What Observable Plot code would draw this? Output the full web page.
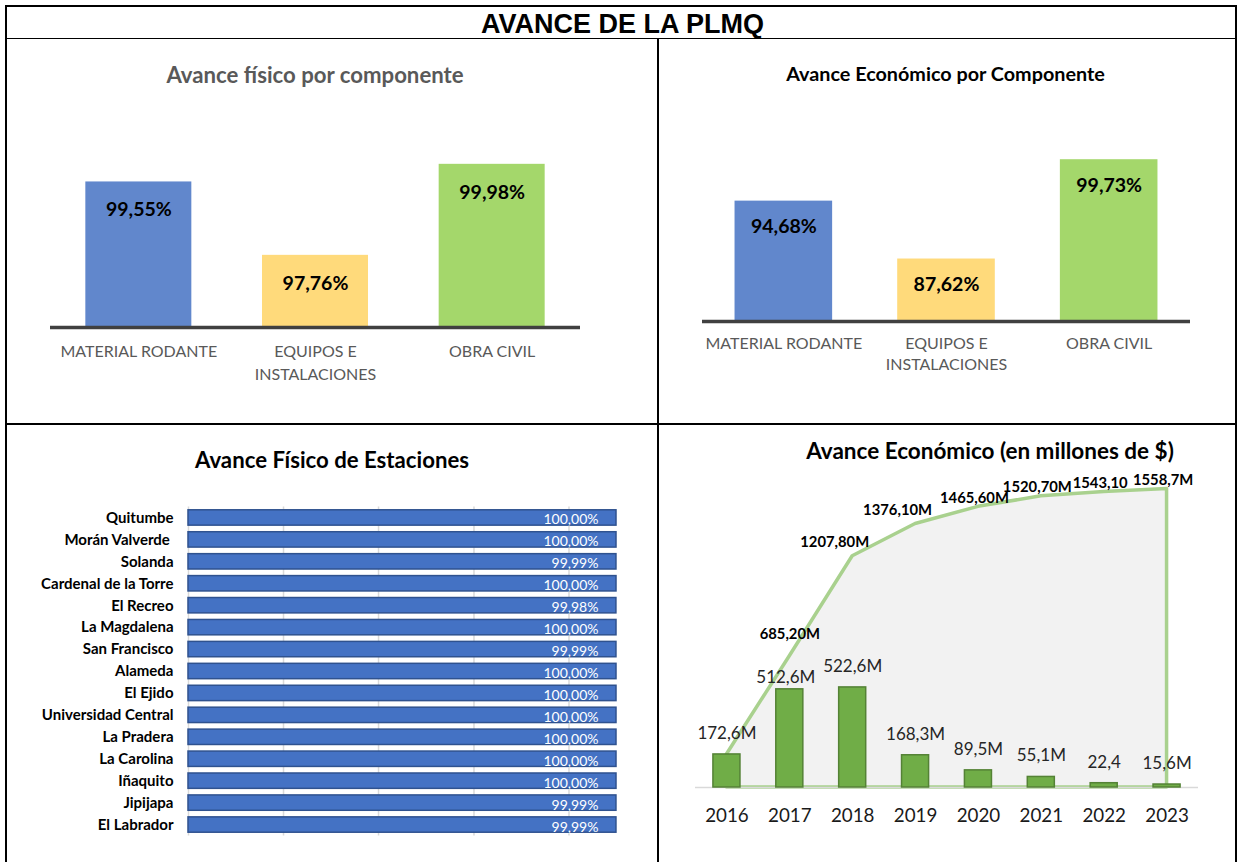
<!DOCTYPE html>
<html>
<head>
<meta charset="utf-8">
<script src="https://cdn.jsdelivr.net/npm/d3@7"></script>
<script src="https://cdn.jsdelivr.net/npm/@observablehq/plot@0.6"></script>
<style>
  body { margin: 0; background: #fff; }
  #page { position: relative; width: 1239px; height: 862px; overflow: hidden; background: #fff; font-family: Lato, sans-serif; }
  .line { position: absolute; background: #000; }
  .title { position: absolute; white-space: nowrap; transform: translate(-50%, -50%); font-weight: bold; line-height: 1; }
  .chart { position: absolute; }
  .chart svg { overflow: visible; }
</style>
</head>
<body>
<div id="page"></div>
<script>
// ---------------- DATA ----------------
const components = ["MATERIAL RODANTE", "EQUIPOS E\nINSTALACIONES", "OBRA CIVIL"];
const fisicoValues = [99.55, 97.76, 99.98];
const economicoValues = [94.68, 87.62, 99.73];

const stations = ["Quitumbe", "Morán Valverde\u00A0", "Solanda", "Cardenal de la Torre", "El Recreo",
  "La Magdalena", "San Francisco", "Alameda", "El Ejido", "Universidad Central", "La Pradera",
  "La Carolina", "Iñaquito", "Jipijapa", "El Labrador"];
const stationValues = [100, 100, 99.99, 100, 99.98, 100, 99.99, 100, 100, 100, 100, 100, 100, 99.99, 99.99];
const stationGridTicks = [0, 22.2, 44.4, 66.7, 88.9];

const years = [2016, 2017, 2018, 2019, 2020, 2021, 2022, 2023];
const annualValues = [172.6, 512.6, 522.6, 168.3, 89.5, 55.1, 22.4, 15.6];
const annualLabels = ["172,6M", "512,6M", "522,6M", "168,3M", "89,5M", "55,1M", "22,4", "15,6M"];
const cumulativeValues = [172.6, 685.2, 1207.8, 1376.1, 1465.6, 1520.7, 1543.1, 1558.7];
const cumulativeLabels = ["", "685,20M", "1207,80M", "1376,10M", "1465,60M", "1520,70M", "1543,10", "1558,7M"];

// ---------------- LAYOUT ----------------
const page = document.getElementById("page");
function addLine(l, t, w, h) {
  const d = document.createElement("div");
  d.className = "line";
  Object.assign(d.style, {left: l + "px", top: t + "px", width: w + "px", height: h + "px"});
  page.appendChild(d);
}
function addTitle(text, cx, cy, size, color, family) {
  const d = document.createElement("div");
  d.className = "title";
  d.textContent = text;
  Object.assign(d.style, {left: cx + "px", top: cy + "px", fontSize: size + "px", color, fontFamily: family || "Lato, sans-serif"});
  page.appendChild(d);
}
function addChart(svg, l, t) {
  const d = document.createElement("div");
  d.className = "chart";
  d.style.left = l + "px";
  d.style.top = t + "px";
  d.appendChild(svg);
  page.appendChild(d);
}

// frame lines
addLine(5, 5, 1232, 2);
addLine(5, 37.5, 1232, 1.5);
addLine(5, 5, 2, 857);
addLine(1234.5, 5, 2, 857);
addLine(5, 422.5, 1232, 2);
addLine(656.5, 38, 2, 824);

addTitle("AVANCE DE LA PLMQ", 622.5, 23.5, 27, "#000", "'Liberation Sans', Arial, sans-serif");
addTitle("Avance físico por componente", 315, 75, 22.2, "#595959");
addTitle("Avance Económico por Componente", 945.5, 74, 19.8, "#000");
addTitle("Avance Físico de Estaciones", 332, 460, 22.2, "#000");
addTitle("Avance Económico (en millones de $)", 990, 451, 22.5, "#000");

const fmtPct = v => v.toFixed(2).replace(".", ",") + "%";

// ---------------- PANELS 1 & 2 ----------------
function componentChart(values, o) {
  const data = components.map((c, i) => ({c, v: values[i]}));
  return Plot.plot({
    width: o.width, height: o.height,
    marginLeft: o.ml, marginRight: o.mr, marginTop: o.mt, marginBottom: o.mb,
    style: {fontFamily: "Lato, sans-serif", color: "#595959", background: "transparent"},
    x: {domain: components, paddingInner: 0.4, paddingOuter: 0.2, round: false},
    y: {domain: o.yDomain, axis: null},
    color: {domain: components, range: ["#6187CC", "#FFDA7B", "#A4D76B"]},
    marks: [
      Plot.barY(data, {x: "c", y1: o.yDomain[0], y2: "v", fill: "c", insetLeft: 0, insetRight: 0}),
      Plot.ruleY([o.yDomain[0]], {stroke: "#404040", strokeWidth: 3.5}),
      Plot.text(data, {x: "c", y: "v", text: d => fmtPct(d.v), dy: o.labelDy, fill: "#000", fontWeight: "bold", fontSize: 19.5}),
      Plot.axisX({tickSize: 0, tickPadding: o.tickPadding, fontSize: 16, lineHeight: o.lineHeight, label: null})
    ]
  });
}

addChart(componentChart(fisicoValues, {
  width: 652, height: 384, ml: 45, mr: 77, mt: 123, mb: 97, yDomain: [96, 100], labelDy: 28, tickPadding: 13, lineHeight: 1.44
}), 5, 40);

addChart(componentChart(economicoValues, {
  width: 579, height: 384, ml: 45, mr: 46, mt: 117, mb: 103, yDomain: [80, 100], labelDy: 26, tickPadding: 12, lineHeight: 1.33
}), 657, 40);

// ---------------- PANEL 3 ----------------
const stationData = stations.map((s, i) => ({s, v: stationValues[i]}));
addChart(Plot.plot({
  width: 652, height: 438,
  marginLeft: 183, marginRight: 41, marginTop: 82.5, marginBottom: 26.5,
  style: {fontFamily: "Lato, sans-serif", color: "#000", background: "transparent"},
  x: {domain: [0, 100], axis: null},
  y: {domain: stations, paddingInner: 0.3, paddingOuter: 0.15, round: false},
  marks: [
    Plot.ruleX(stationGridTicks, {stroke: "#D9D9D9", strokeWidth: 1.5}),
    Plot.barX(stationData, {y: "s", x: "v", fill: "#4472C4", stroke: "#2F528F", strokeWidth: 1.5}),
    Plot.text(stationData, {y: "s", x: "v", text: d => fmtPct(d.v), textAnchor: "end", dx: -18, dy: 2, fill: "#fff", fontSize: 14}),
    Plot.axisY({tickSize: 0, tickPadding: 15, fontWeight: "bold", fontSize: 15, label: null})
  ]
}), 5, 424);

// ---------------- PANEL 4 ----------------
const econ = years.map((year, i) => ({
  year, annual: annualValues[i], annualLabel: annualLabels[i],
  cum: cumulativeValues[i], cumLabel: cumulativeLabels[i]
}));
addChart(Plot.plot({
  width: 579, height: 438,
  marginLeft: 38, marginRight: 38, marginTop: 18.3, marginBottom: 75,
  style: {fontFamily: "Lato, sans-serif", color: "#1a1a1a", background: "transparent"},
  x: {domain: [2015.5, 2023.5], axis: null},
  y: {domain: [0, 1800], axis: null},
  marks: [
    Plot.areaY(econ, {x: "year", y: "cum", fill: "#F2F2F2", stroke: "#A9D18E", strokeWidth: 3.5}),
    Plot.ruleY([0], {stroke: "#D9D9D9", strokeWidth: 1.5}),
    Plot.rectY(econ, {x1: d => d.year - 0.215, x2: d => d.year + 0.215, y1: 0, y2: "annual", fill: "#70AD47", stroke: "#548235", strokeWidth: 1.5}),
    Plot.text(econ.filter(d => d.year !== 2017), {x: "year", y: "annual", text: "annualLabel", dy: -21, fill: "#262626", fontSize: 17}),
    Plot.text(econ.filter(d => d.year === 2017), {x: "year", y: "annual", text: "annualLabel", dy: -12, dx: -4, fill: "#262626", fontSize: 17}),
    Plot.text(econ.filter(d => d.year === 2017), {x: "year", y: "cum", text: "cumLabel", dy: -22, fill: "#000", fontWeight: "bold", fontSize: 14.8}),
    Plot.text(econ.filter(d => d.year === 2018 || d.year === 2019), {x: "year", y: "cum", text: "cumLabel", dx: -18, dy: -14, fill: "#000", fontWeight: "bold", fontSize: 14.8}),
    Plot.text(econ.filter(d => d.year >= 2020), {x: "year", y: "cum", text: "cumLabel", dx: -4, dy: -9, fill: "#000", fontWeight: "bold", fontSize: 14.8}),
    Plot.axisX(years, {tickSize: 0, tickPadding: 21, tickFormat: d => String(d), fontSize: 18.8, label: null})
  ]
}), 657, 424);
</script>
</body>
</html>
